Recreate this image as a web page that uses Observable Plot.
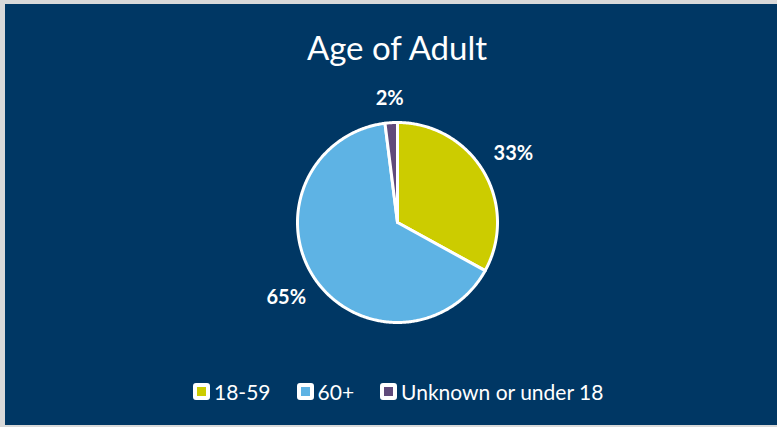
<!DOCTYPE html>
<html>
<head>
<meta charset="utf-8">
<script src="https://cdn.jsdelivr.net/npm/d3@7"></script>
<script src="https://cdn.jsdelivr.net/npm/@observablehq/plot@0.6"></script>
<style>
  html, body { margin: 0; padding: 0; background: #d9d9d9; width: 777px; height: 427px; overflow: hidden; }
  #panel { position: absolute; left: 5px; top: 4px; width: 772px; height: 421px; background: #003764; font-family: Lato, "Open Sans", sans-serif; color: #fff; }
  #title { position: absolute; left: 0; width: 784px; top: 23px; text-align: center; font-size: 33px; }
  #chart { position: absolute; left: 237px; top: 63px; }
  #legend { position: absolute; top: 373px; left: 188px; font-size: 21px; display: flex; align-items: center; white-space: nowrap; height: 28px; }
  .item { display: flex; align-items: center; margin-right: 26px; }
  .sw { width: 9px; height: 9px; border: 4px solid #fff; border-radius: 3px; margin-right: 4px; }
</style>
</head>
<body>
<div id="panel">
  <div id="title">Age of Adult</div>
  <div id="chart"></div>
  <div id="legend"></div>
</div>
<script>
const categories = ["18-59", "60+", "Unknown or under 18"];
const values = [33, 65, 2];
const colors = ["#cccc00", "#5eb3e4", "#604a7b"];

const total = d3.sum(values);
const pie = d3.pie().sort(null).value(d => d.value)(categories.map((c, i) => ({category: c, value: values[i]})));

// polygon points along each arc (unit radius), angle clockwise from north
const pts = [];
pie.forEach(s => {
  const n = Math.max(4, Math.ceil((s.endAngle - s.startAngle) / 0.01));
  pts.push({category: s.data.category, x: 0, y: 0});
  for (let k = 0; k <= n; k++) {
    const a = s.startAngle + (s.endAngle - s.startAngle) * k / n;
    pts.push({category: s.data.category, x: Math.sin(a), y: Math.cos(a)});
  }
});

const R = 100; // px radius
const W = 310, H = 310;
const half = (W / 2) / R;

const labels = pie.map(s => {
  const a = (s.startAngle + s.endAngle) / 2;
  const txt = Math.round(s.data.value / total * 100) + "%";
  const w = txt.length * 11.5, h = 15;
  const ext = Math.abs(Math.sin(a)) * w / 2 + Math.abs(Math.cos(a)) * h / 2;
  const r = (R + 16 + ext) / R;
  return {category: s.data.category, text: txt, x: r * Math.sin(a), y: r * Math.cos(a)};
});

const plot = Plot.plot({
  width: W, height: H,
  margin: 0,
  x: {domain: [-half, half], axis: null},
  y: {domain: [-half, half], axis: null},
  color: {domain: categories, range: colors},
  style: {background: "transparent", fontFamily: "Lato, 'Open Sans', sans-serif"},
  marks: [
    Plot.line(pts, {x: "x", y: "y", z: "category", fill: "category", stroke: "#fff", strokeWidth: 3, strokeLinejoin: "round", curve: "linear-closed"}),
    Plot.text(labels, {x: "x", y: "y", text: "text", fill: "#fff", fontSize: 20, fontWeight: "bold"})
  ]
});
document.getElementById("chart").appendChild(plot);

const legend = document.getElementById("legend");
categories.forEach((c, i) => {
  const it = document.createElement("div");
  it.className = "item";
  const sw = document.createElement("div");
  sw.className = "sw";
  sw.style.background = colors[i];
  const t = document.createElement("span");
  t.textContent = c;
  it.appendChild(sw); it.appendChild(t);
  legend.appendChild(it);
});
</script>
</body>
</html>
